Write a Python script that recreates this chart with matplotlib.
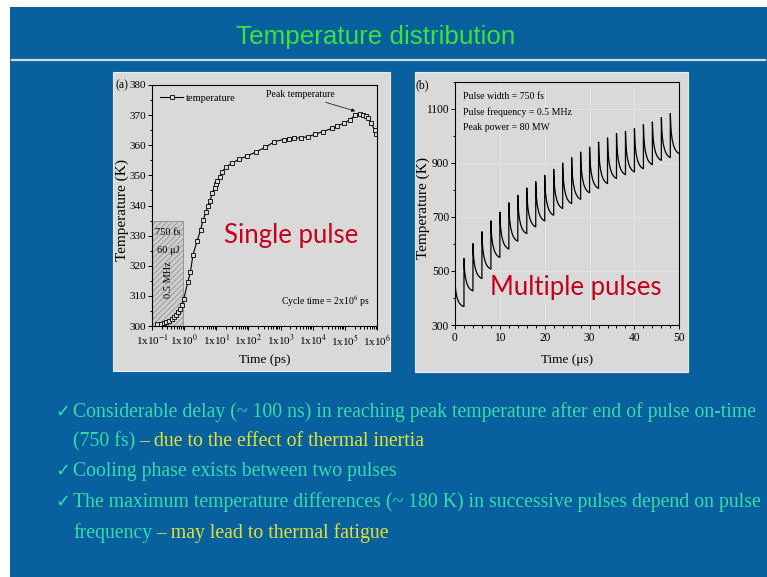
import numpy as np
import matplotlib.pyplot as plt
from matplotlib.patches import Rectangle
from matplotlib.lines import Line2D
from matplotlib.ticker import MultipleLocator, LogLocator, NullFormatter

plt.rcParams['mathtext.fontset'] = 'stix'
plt.rcParams['hatch.linewidth'] = 0.5

# ---- single pulse: temperature vs time (log axis)
time_ps = [0.143, 0.19, 0.231, 0.279, 0.338, 0.409, 0.483, 0.571, 0.659, 0.760,
           0.857, 0.966, 1.29, 1.56, 1.89, 2.51, 3.27, 3.86, 4.79, 5.52,
           6.53, 7.36, 8.91, 10.0, 10.8, 12.7, 15.1, 20.6, 30.8, 49.7,
           90.4, 172, 336, 640, 1250, 1875, 2620, 4330, 6970, 11500,
           20400, 39800, 58300, 91900, 141000, 212000, 296000, 366000, 445000, 513000,
           667000, 846000, 955000]
temp_a = [300.6, 300.8, 301.0, 301.3, 301.8, 302.3, 303.0, 303.8, 304.7, 305.8,
          307.1, 308.8, 314.5, 317.8, 323.7, 328.1, 332.0, 335.1, 337.9, 339.8,
          341.6, 344.3, 345.7, 347.3, 348.2, 349.3, 351.2, 352.9, 354.0, 355.3,
          356.4, 357.8, 359.3, 361.2, 361.9, 362.2, 362.3, 362.5, 362.8, 363.6,
          364.5, 365.6, 366.4, 367.3, 368.4, 370.0, 370.4, 370.2, 369.8, 369.0,
          367.3, 365.0, 363.6]
pulse_end_ps = 0.9
pulse_top_K = 335
a_xticks = [-1, 0, 1, 2, 3, 4, 5, 6]

# ---- multiple pulses: peak / trough temperature of each cycle
period_us = 2.0
pulse_us = [0, 2, 4, 6, 8, 10, 12, 14, 16, 18, 20, 22, 24, 26, 28, 30, 32, 34, 36, 38, 40, 42, 44, 46, 48]
peak_K = [470, 546, 601, 645, 685, 718, 752, 780, 807, 830, 854, 876, 899, 919, 940, 958,
          977, 992, 1008, 1016, 1026, 1041, 1051, 1067, 1082]
trough_K = [368, 426, 472, 507, 550, 581, 610, 638, 663, 685, 706, 731, 749, 765, 789, 805,
            823, 842, 856, 866, 878, 893, 909, 919, 934]
# cooling curve inside one cycle: fraction of the cycle vs fraction of the drop
cool_t = [0, 0.02, 0.05, 0.1, 0.2, 0.35, 0.5, 0.7, 0.85, 1.0]
cool_f = [0, 0.15, 0.3, 0.46, 0.64, 0.79, 0.88, 0.95, 0.98, 1.0]

BLUE = '#08609e'
PANEL = '#d9d9d9'
TITLE_GREEN = '#3ee23a'
TEXT_GREEN = '#36dcaa'
TEXT_YELLOW = '#e2e236'
RED = '#c4001c'
SERIF = ['Liberation Serif', 'DejaVu Serif']
SANS = ['Liberation Sans', 'DejaVu Sans']

W, H = 767, 577
fig = plt.figure(figsize=(7.67, 5.77), dpi=100, facecolor='white')


def fx(px):
    return px / W


def fy(py):
    return 1 - py / H


# slide background
fig.add_artist(Rectangle((fx(10), 0), 1, fy(7), transform=fig.transFigure,
                         facecolor=BLUE, edgecolor='none', zorder=-3))
fig.add_artist(Line2D([fx(12), fx(765)], [fy(60), fy(60)], transform=fig.transFigure,
                      color='#cfd8e2', lw=1.6, zorder=-2))
fig.text(fx(376), fy(37), 'Temperature distribution', color=TITLE_GREEN, fontsize=18.7,
         family=SANS, ha='center', va='center')

# plot panels
for x0, y0, x1, y1 in [(113, 72, 390, 371), (415, 72, 688, 372)]:
    fig.add_artist(Rectangle((fx(x0), fy(y1)), (x1 - x0) / W, (y1 - y0) / H,
                             transform=fig.transFigure, facecolor=PANEL,
                             edgecolor='#e6edf3', lw=0.8, zorder=-1))


def style_axes(ax, size):
    ax.set_facecolor(PANEL)
    for sp in ax.spines.values():
        sp.set_linewidth(0.8)
    ax.tick_params(which='both', direction='out', width=0.7, labelsize=size)
    ax.tick_params(axis='y', which='major', length=3, pad=1.2)
    ax.tick_params(axis='x', which='major', length=3, pad=2)
    ax.tick_params(which='minor', length=1.8)
    for lab in ax.get_xticklabels() + ax.get_yticklabels():
        lab.set_family(SERIF)


# ---- (a) single pulse
ax1 = fig.add_axes([fx(152), fy(326), 225 / W, 241 / H])
ax1.set_xscale('log')
ax1.add_patch(Rectangle((0.1, 300), pulse_end_ps - 0.1, pulse_top_K - 300,
                        facecolor='#cdcdcd', edgecolor='#8c8c8c', hatch='//////', lw=0.6))
ax1.plot(time_ps, temp_a, color='k', lw=0.8, marker='s', ms=3.2, mfc=PANEL,
         mec='k', mew=0.6, label='temperature')
ax1.set_xlim(0.1, 1e6)
ax1.set_ylim(300, 380)
ax1.set_xticks([10.0 ** k for k in a_xticks])
ax1.set_xticklabels([f'1x10$^{{{k}}}$' for k in a_xticks])
ax1.xaxis.set_minor_locator(LogLocator(base=10, subs=range(2, 10), numticks=20))
ax1.xaxis.set_minor_formatter(NullFormatter())
ax1.yaxis.set_major_locator(MultipleLocator(10))
ax1.yaxis.set_minor_locator(MultipleLocator(5))
style_axes(ax1, 8)
ax1.set_xlabel('Time (ps)', family=SERIF, fontsize=9.5)
ax1.xaxis.set_label_coords(0.5, -0.142)
ax1.xaxis.label.set_va('center')
ax1.set_ylabel('Temperature (K)', family=SERIF, fontsize=11)
ax1.yaxis.set_label_coords(-0.13, 0.48)
ax1.yaxis.label.set_va('center')

ax1.text(0.32, 331, '750 fs', family=SERIF, fontsize=7.5, ha='center', va='center')
ax1.text(0.32, 325.2, '60 μJ', family=SERIF, fontsize=7.5, ha='center', va='center')
ax1.text(0.32, 315.5, '0.5 MHz', family=SERIF, fontsize=7.5, ha='center', va='center',
         rotation=90)
ax1.legend(loc='upper left', frameon=False, prop={'family': SERIF, 'size': 7.5},
           handlelength=2.2, handletextpad=0.3, borderaxespad=0.4)
ax1.annotate('Peak temperature', xy=(2.3e5, 371.2), xytext=(4.0e3, 376.8),
             family=SERIF, fontsize=7, ha='center', va='center',
             arrowprops=dict(arrowstyle='-|>', lw=0.5, color='k', mutation_scale=5,
                             shrinkA=1, shrinkB=1))
ax1.text(2.5e4, 308.2, 'Cycle time = 2x10$^6$ ps', family=SERIF, fontsize=7,
         ha='center', va='center')
ax1.text(2.1e3, 330.2, 'Single pulse', color=RED, family=['Lato', 'DejaVu Sans'],
         fontsize=18.5, ha='center', va='center')

# ---- (b) multiple pulses
t_b, T_b = [], []
for t0, pk, tr in zip(pulse_us, peak_K, trough_K):
    for st, sf in zip(cool_t, cool_f):
        t_b.append(t0 + period_us * st)
        T_b.append(pk - (pk - tr) * sf)

ax2 = fig.add_axes([fx(455), fy(325), 224.3 / W, 243.3 / H])
ax2.plot(t_b, T_b, color='k', lw=0.9)
ax2.set_xlim(0, 50)
ax2.set_ylim(300, 1200)
ax2.set_xticks([0, 10, 20, 30, 40, 50])
ax2.set_yticks([300, 500, 700, 900, 1100])
ax2.xaxis.set_minor_locator(MultipleLocator(2))
ax2.yaxis.set_minor_locator(MultipleLocator(100))
ax2.grid(True, which='major', color='#e4e4e4', lw=0.6)
ax2.set_axisbelow(True)
style_axes(ax2, 8.3)
ax2.set_xlabel('Time (μs)', family=SERIF, fontsize=9.5)
ax2.xaxis.set_label_coords(0.5, -0.144)
ax2.xaxis.label.set_va('center')
ax2.set_ylabel('Temperature (K)', family=SERIF, fontsize=11)
ax2.yaxis.set_label_coords(-0.143, 0.48)
ax2.yaxis.label.set_va('center')
for yy, s in zip([0.941, 0.875, 0.81],
                 ['Pulse width = 750 fs', 'Pulse frequency = 0.5 MHz', 'Peak power = 80 MW']):
    ax2.text(0.036, yy, s, transform=ax2.transAxes, family=SERIF, fontsize=7,
             ha='left', va='center')
ax2.text(26.9, 437, 'Multiple pulses', color=RED, family=['Lato', 'DejaVu Sans'],
         fontsize=18.5, ha='center', va='center')

fig.text(fx(122), fy(85), '(a)', family=SERIF, fontsize=8.5, ha='center', va='center')
fig.text(fx(422), fy(85), '(b)', family=SERIF, fontsize=8.5, ha='center', va='center')

# ---- bullet points
renderer = fig.canvas.get_renderer()
bullets = [
    (410, 55, True, [('Considerable delay (~ 100 ns) in reaching peak temperature after end of pulse on-time', TEXT_GREEN)]),
    (439, 73, False, [('(750 fs)', TEXT_GREEN), ('– due to the effect of thermal inertia', TEXT_YELLOW)]),
    (469, 55, True, [('Cooling phase exists between two pulses', TEXT_GREEN)]),
    (500, 55, True, [('The maximum temperature differences (~ 180 K) in successive pulses depend on pulse', TEXT_GREEN)]),
    (531, 73, False, [('frequency', TEXT_GREEN), ('– may lead to thermal fatigue', TEXT_YELLOW)]),
]
for y, x0, check, parts in bullets:
    x = fx(x0)
    if check:
        fig.text(x, fy(y), '✓', color=TEXT_GREEN, fontsize=13, family=['DejaVu Sans'],
                 ha='left', va='center_baseline')
        x = fx(x0 + 18)
    for s, c in parts:
        t = fig.text(x, fy(y), s, color=c, fontsize=14.2, family=SERIF,
                     ha='left', va='center_baseline')
        bb = t.get_window_extent(renderer)
        x = (bb.x1 + 4) / fig.bbox.width

fig.savefig('out.png', dpi=100, facecolor=fig.get_facecolor())
